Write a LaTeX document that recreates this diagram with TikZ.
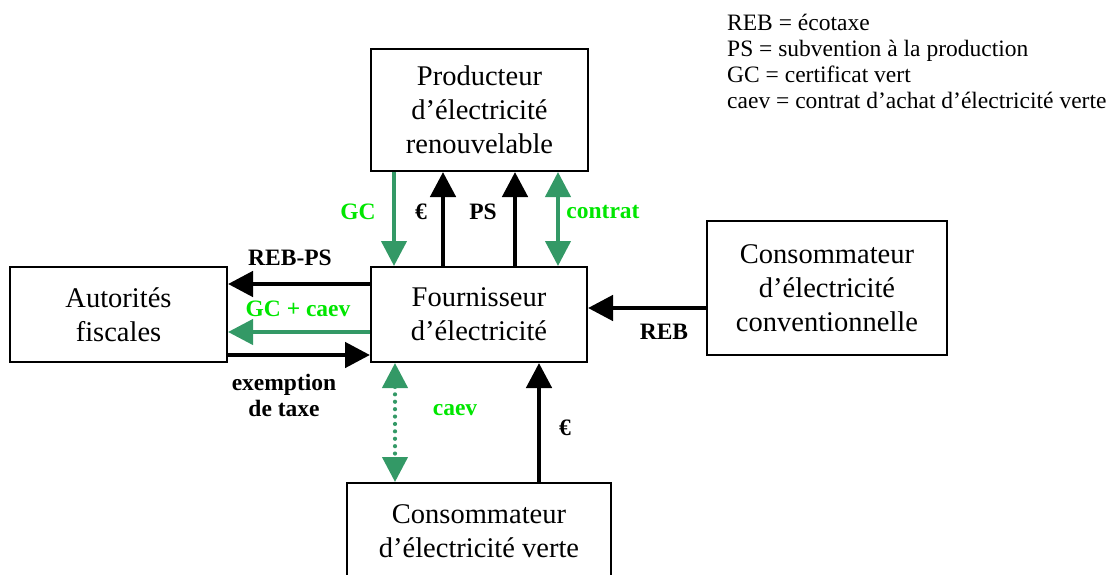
\documentclass[tikz,border=0pt]{standalone}
\usepackage{fontspec}
\setmainfont{Liberation Serif}
\usetikzlibrary{arrows.meta}
\definecolor{arrgreen}{HTML}{339966}
\definecolor{lblgreen}{HTML}{00E600}
\tikzset{
  box/.style={draw, line width=2pt, align=center, inner sep=0pt,
    font=\fontsize{28.5}{34}\selectfont},
  blk/.style={line width=4.7pt, -{Triangle[width=25pt,length=25pt]}},
  grn/.style={draw=arrgreen, line width=4.2pt, -{Triangle[width=25pt,length=25pt]}, arrows={[color=arrgreen]}},
  grnd/.style={draw=arrgreen, line width=4.2pt, {Triangle[width=25pt,length=25pt]}-{Triangle[width=25pt,length=25pt]}, arrows={[color=arrgreen]}},
  lbl/.style={font=\fontsize{23.5}{26}\selectfont\bfseries, inner sep=0pt},
  glbl/.style={lbl, text=lblgreen},
  leg/.style={font=\fontsize{23.5}{26}\selectfont, anchor=base west, inner sep=0pt},
}
\begin{document}
\begin{tikzpicture}[x=1pt,y=-1pt]
\useasboundingbox (0,0) rectangle (1119,575);
\clip (0,0) rectangle (1119,575);
% boxes
\node[box, minimum width=217pt, minimum height=122pt] (prod) at (479.5,110) {Producteur\\d’électricité\\renouvelable};
\node[box, minimum width=216pt, minimum height=95pt] (four) at (479,314.5) {Fournisseur\\d’électricité};
\node[box, minimum width=217pt, minimum height=95pt] (auto) at (118.5,314.5) {Autorités\\fiscales};
\node[box, minimum width=240pt, minimum height=134pt] (conv) at (827,288) {Consommateur\\d’électricité\\conventionnelle};
\node[box, minimum width=264pt, minimum height=96pt] (vert) at (479,531) {Consommateur\\d’électricité verte};
% top arrows
\draw[grn] ([xshift=-85.5pt]prod.south) -- ([xshift=-85pt]four.north);
\draw[blk] ([xshift=-36pt]four.north) -- ([xshift=-36.5pt]prod.south);
\draw[blk] ([xshift=36pt]four.north) -- ([xshift=35.5pt]prod.south);
\draw[grnd] ([xshift=78.5pt]prod.south) -- ([xshift=79pt]four.north);
% left arrows
\draw[blk] ([yshift=30.5pt]four.west) -- ([yshift=30.5pt]auto.east);
\draw[grn] ([yshift=-17.5pt]four.west) -- ([yshift=-17.5pt]auto.east);
\draw[blk] ([yshift=-40.5pt]auto.east) -- ([yshift=-40.5pt]four.west);
% right arrow
\draw[blk] ([yshift=-20pt]conv.west) -- ([yshift=6.5pt]four.east);
% bottom arrows
\draw[grnd, line width=4.2pt, line cap=round, dash pattern=on 0pt off 7.4pt] ([xshift=-84pt]four.south) -- ([xshift=-84pt]vert.north);
\draw[blk] ([xshift=60pt]vert.north) -- ([xshift=60pt]four.south);
% labels
\node[glbl] (lgc) at (358,212) {GC};
\node[lbl] (leu1) at (421,212) {€};
\node[lbl] (lps) at (483,212) {PS};
\node[glbl] (lcon) at (603,212) {contrat};
\node[lbl] (lrebps) at (290,258) {REB-PS};
\node[glbl] (lgccaev) at (298,309) {GC + caev};
\node[lbl, align=center, font=\fontsize{23.5}{26}\selectfont\bfseries] (lexe) at (284,395) {exemption\\de taxe};
\node[lbl] (lreb) at (664,332) {REB};
\node[glbl] (lcaev) at (455,410) {caev};
\node[lbl] (leu2) at (565,428) {€};
% legend
\node[leg] (leg1) at (727,31) {REB = écotaxe};
\node[leg] (leg2) at (727,57) {PS = subvention à la production};
\node[leg] (leg3) at (727,83) {GC = certificat vert};
\node[leg] (leg4) at (727,109) {caev = contrat d’achat d’électricité verte};
\end{tikzpicture}
\end{document}
